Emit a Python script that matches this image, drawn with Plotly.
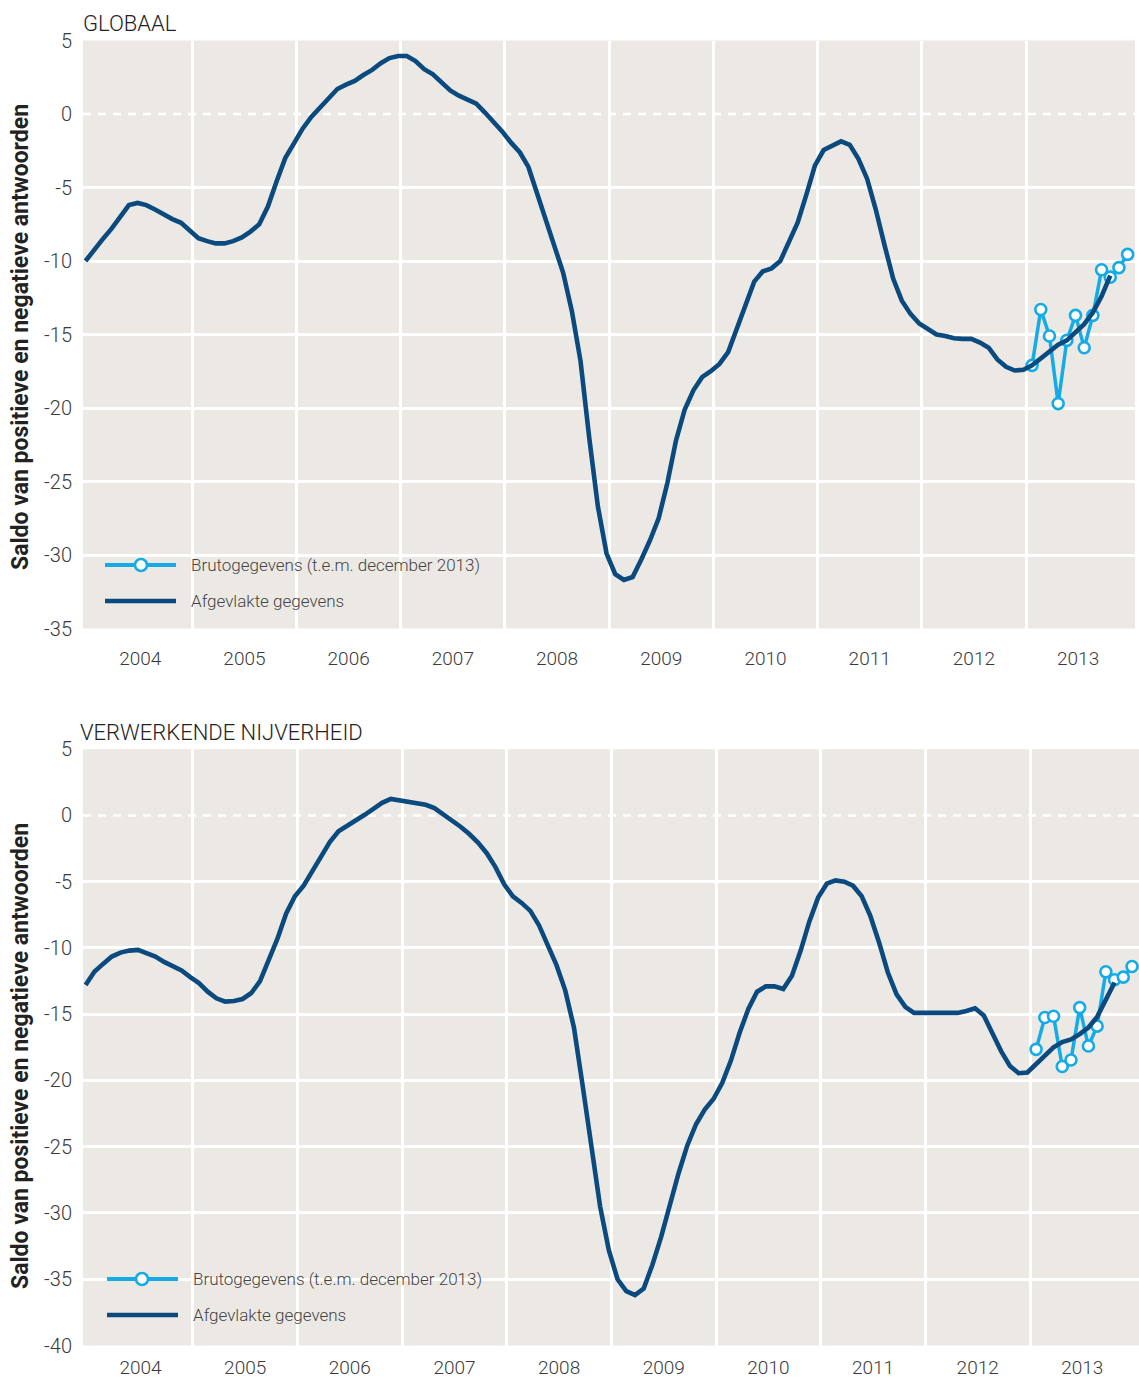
import plotly.graph_objects as go

# ---------------------------------------------------------------------------
# Data: balance of positive and negative answers (monthly)
# Smoothed series run from December 2003 (month index -1) to October 2013.
# Raw series cover January - December 2013.
# Month index 0 = January 2004.
# ---------------------------------------------------------------------------
YEARS = [2004, 2005, 2006, 2007, 2008, 2009, 2010, 2011, 2012, 2013]
SMOOTH_FIRST_MONTH = -1
RAW_FIRST_MONTH = 108

globaal_smoothed = [
    -10.0,
    -9.2, -8.5, -7.8, -7.0, -6.2, -6.05, -6.2, -6.5, -6.85, -7.15, -7.4, -7.9,
    -8.45, -8.65, -8.8, -8.8, -8.65, -8.4, -8.0, -7.5, -6.3, -4.6, -3.0, -2.0,
    -1.0, -0.2, 0.45, 1.0, 1.7, 2.0, 2.25, 2.65, 3.0, 3.45, 3.8, 3.95,
    3.95, 3.6, 3.05, 2.7, 2.1, 1.6, 1.25, 1.0, 0.7, 0.1, -0.5, -1.2,
    -1.95, -2.6, -3.6, -5.4, -7.1, -8.8, -10.8, -13.4, -16.8, -22.0, -26.7, -29.9,
    -31.3, -31.7, -31.5, -30.3, -29.0, -27.5, -25.1, -22.2, -20.1, -18.8, -17.9, -17.5,
    -17.0, -16.2, -14.6, -13.0, -11.4, -10.7, -10.5, -10.0, -8.6, -7.4, -5.5, -3.5,
    -2.45, -2.15, -1.86, -2.1, -3.05, -4.4, -6.5, -8.9, -11.2, -12.7, -13.6, -14.25,
    -14.6, -15.0, -15.1, -15.25, -15.3, -15.3, -15.55, -15.9, -16.7, -17.2, -17.45, -17.4,
    -17.1, -16.6, -16.1, -15.7, -15.4, -14.9, -14.3, -13.5, -12.4, -11.0,
]
globaal_raw = [-17.1, -13.3, -15.1, -19.7, -15.4, -13.7, -15.9, -13.7, -10.6, -11.1, -10.45, -9.55]

verwerkend_smoothed = [
    -12.8,
    -11.8, -11.2, -10.65, -10.35, -10.2, -10.15, -10.4, -10.65, -11.05, -11.4, -11.7, -12.2,
    -12.65, -13.3, -13.8, -14.05, -14.0, -13.85, -13.4, -12.5, -11.0, -9.3, -7.4, -6.1,
    -5.3, -4.15, -3.0, -2.0, -1.2, -0.8, -0.45, 0.05, 0.5, 0.95, 1.25, 1.15,
    1.05, 0.95, 0.8, 0.55, 0.1, -0.35, -0.85, -1.4, -2.05, -2.85, -3.9, -5.2,
    -6.1, -6.6, -7.2, -8.3, -9.9, -11.3, -13.2, -16.0, -20.4, -25.1, -29.5, -32.8,
    -35.0, -35.9, -36.2, -35.7, -33.9, -31.8, -29.3, -27.0, -24.9, -23.3, -22.2, -21.4,
    -20.2, -18.5, -16.4, -14.6, -13.3, -12.9, -12.9, -13.1, -12.1, -10.2, -8.0, -6.2,
    -5.15, -4.9, -5.0, -5.3, -6.1, -7.6, -9.6, -11.85, -13.5, -14.45, -14.9, -14.9,
    -14.9, -14.9, -14.9, -14.9, -14.75, -14.55, -15.1, -16.4, -17.8, -18.9, -19.45, -19.4,
    -18.8, -18.2, -17.5, -17.1, -16.9, -16.5, -16.0, -15.2, -13.9, -12.6,
]
verwerkend_raw = [-17.65, -15.25, -15.15, -18.95, -18.45, -14.5, -17.4, -15.9, -11.8, -12.4, -12.2, -11.4]

PANEL_TITLES = ["GLOBAAL", "VERWERKENDE NIJVERHEID"]
Y_TITLE = "Saldo van positieve en negatieve antwoorden"
LEGEND_RAW = "Brutogegevens (t.e.m. december 2013)"
LEGEND_SMOOTH = "Afgevlakte gegevens"

# ---------------------------------------------------------------------------
# Styling
# ---------------------------------------------------------------------------
W, H = 1139, 1380
ML = 83
DARK = "#0b4a7e"
LIGHT = "#14abe6"
BG = "#ece9e5"
FONT = "Roboto, 'DejaVu Sans', sans-serif"
TXT = "#3a3a3a"

MONTH_POS = 0.7  # position of a monthly observation inside its month


def month_x(first, n):
    return [first + i + MONTH_POS for i in range(n)]


def px_x(p):
    return (p - ML) / (W - ML)


def px_y(p):
    return 1 - p / H


fig = go.Figure()

panels = [
    dict(smooth=globaal_smoothed, raw=globaal_raw, xa="x", ya="y",
         yrange=[-35, 5], dom=[px_y(628.5), px_y(40.5)], xdom=[0, px_x(1135)],
         xrange=[-0.59, 120.55], standoff=16),
    dict(smooth=verwerkend_smoothed, raw=verwerkend_raw, xa="x2", ya="y2",
         yrange=[-40, 5], dom=[px_y(1345.5), px_y(749.2)], xdom=[0, 1],
         xrange=[-0.6, 120.5], standoff=8),
]

for p in panels:
    fig.add_trace(go.Scatter(
        x=month_x(RAW_FIRST_MONTH, len(p["raw"])), y=p["raw"],
        mode="lines+markers", xaxis=p["xa"], yaxis=p["ya"],
        line=dict(color=LIGHT, width=3.5),
        marker=dict(size=11, color="white", line=dict(color=LIGHT, width=2.6)),
        name=LEGEND_RAW, showlegend=False, hoverinfo="skip",
    ))
    fig.add_trace(go.Scatter(
        x=month_x(SMOOTH_FIRST_MONTH, len(p["smooth"])), y=p["smooth"],
        mode="lines", xaxis=p["xa"], yaxis=p["ya"],
        line=dict(color=DARK, width=4.6, shape="linear"),
        name=LEGEND_SMOOTH, showlegend=False, hoverinfo="skip",
    ))

year_mid = [12 * i + 6 for i in range(len(YEARS))]
year_bounds = [12 * i for i in range(1, len(YEARS))]

shapes = []
annotations = []
axes = {}

for i, p in enumerate(panels):
    sfx = "" if i == 0 else "2"
    ymin, ymax = p["yrange"]
    yticks = list(range(ymax, ymin - 1, -5))
    ygrid = [v for v in yticks if v not in (0, ymin, ymax)]
    axes["xaxis" + sfx] = dict(
        domain=p["xdom"], range=p["xrange"], anchor="y" + sfx,
        tickmode="array", tickvals=year_mid, ticktext=[str(y) for y in YEARS],
        showgrid=False, zeroline=False, showline=False, automargin=False,
        ticks="", ticklabelstandoff=p["standoff"],
        tickfont=dict(size=19, color=TXT, family=FONT, weight=300),
        minor=dict(tickmode="array", tickvals=year_bounds, showgrid=True,
                   gridcolor="white", gridwidth=3, ticks=""),
        fixedrange=True,
    )
    axes["yaxis" + sfx] = dict(
        domain=p["dom"], range=p["yrange"], anchor="x" + sfx,
        tickmode="array", tickvals=yticks, ticktext=[str(v) for v in yticks],
        showgrid=False, zeroline=False, showline=False, automargin=False,
        ticks="", ticklabelstandoff=10,
        tickfont=dict(size=20, color=TXT, family=FONT, weight=300),
        minor=dict(tickmode="array", tickvals=ygrid, showgrid=True,
                   gridcolor="white", gridwidth=2.5, ticks=""),
        fixedrange=True,
    )
    # dashed zero line
    shapes.append(dict(
        type="line", xref="x" + sfx + " domain", x0=0, x1=1,
        yref="y" + sfx, y0=0, y1=0, layer="below",
        line=dict(color="white", width=2.5, dash="8px,7px"),
    ))

# panel titles
for title, (tx, ty) in zip(PANEL_TITLES, [(81, 23), (78, 732)]):
    annotations.append(dict(
        text=title, xref="paper", yref="paper", x=px_x(tx), y=px_y(ty),
        xanchor="left", yanchor="middle", showarrow=False,
        font=dict(size=22, color="#222222", family=FONT, weight=300),
    ))

# vertical axis titles
for cy in (337, 1056):
    annotations.append(dict(
        text="<b>" + Y_TITLE + "</b>", xref="paper", yref="paper",
        x=px_x(20), y=px_y(cy), xanchor="center", yanchor="middle",
        textangle=-90, showarrow=False,
        font=dict(size=23, color="#222222", family=FONT),
    ))

# legends drawn inside each panel
legend_rows = [
    dict(x0=105, x1=176, xm=141, xt=189, y_raw=565, y_smooth=601),
    dict(x0=107, x1=178, xm=142, xt=191, y_raw=1279, y_smooth=1315),
]
R = 6.0  # legend marker radius in pixels
for lg in legend_rows:
    shapes.append(dict(
        type="line", xref="paper", yref="paper",
        x0=px_x(lg["x0"]), x1=px_x(lg["x1"]), y0=px_y(lg["y_raw"]), y1=px_y(lg["y_raw"]),
        line=dict(color=LIGHT, width=4), layer="above",
    ))
    shapes.append(dict(
        type="circle", xref="paper", yref="paper",
        x0=px_x(lg["xm"] - R), x1=px_x(lg["xm"] + R),
        y0=px_y(lg["y_raw"] + R), y1=px_y(lg["y_raw"] - R),
        fillcolor="white", line=dict(color=LIGHT, width=2.6), layer="above",
    ))
    shapes.append(dict(
        type="line", xref="paper", yref="paper",
        x0=px_x(lg["x0"]), x1=px_x(lg["x1"]), y0=px_y(lg["y_smooth"]), y1=px_y(lg["y_smooth"]),
        line=dict(color=DARK, width=4.5), layer="above",
    ))
    for text, yy in ((LEGEND_RAW, lg["y_raw"]), (LEGEND_SMOOTH, lg["y_smooth"])):
        annotations.append(dict(
            text=text, xref="paper", yref="paper", x=px_x(lg["xt"]), y=px_y(yy),
            xanchor="left", yanchor="middle", showarrow=False,
            font=dict(size=17, color="#444444", family=FONT, weight=300),
        ))

fig.update_layout(
    width=W, height=H,
    margin=dict(l=ML, r=0, t=0, b=0, autoexpand=False),
    paper_bgcolor="white", plot_bgcolor=BG,
    font=dict(family=FONT, color=TXT),
    showlegend=False,
    shapes=shapes, annotations=annotations,
    **axes,
)
fig.write_html("out.html")
